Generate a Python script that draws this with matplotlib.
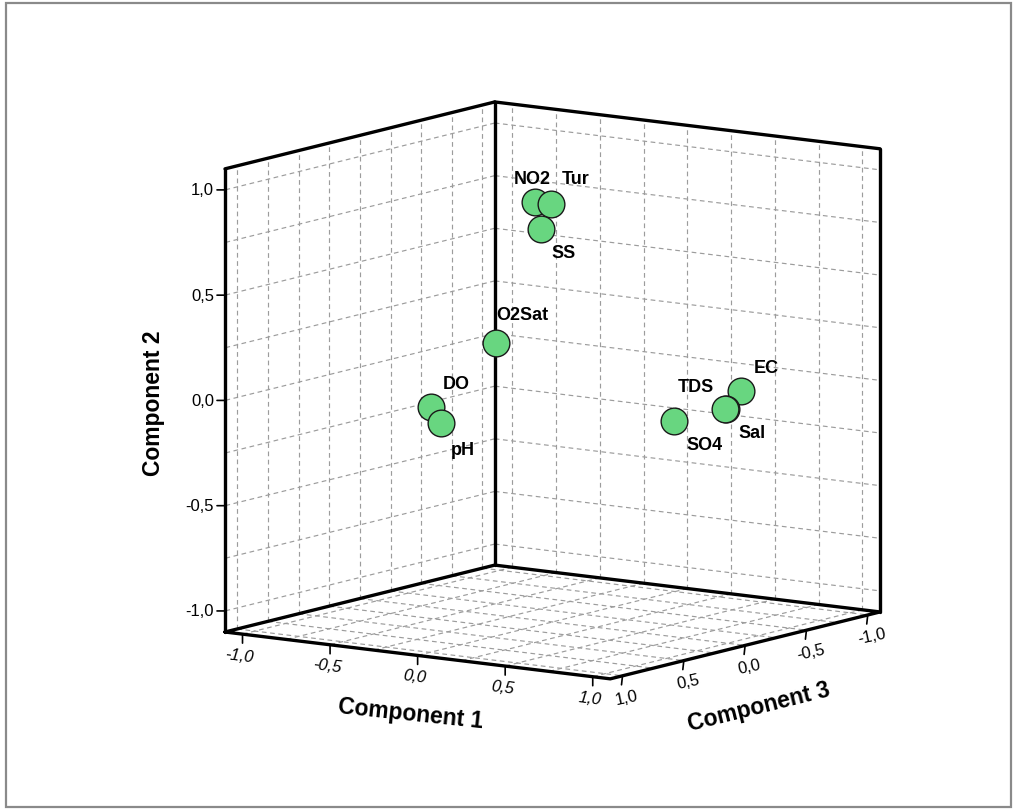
import numpy as np
import matplotlib
import matplotlib.pyplot as plt
from matplotlib.patches import Rectangle
from mpl_toolkits.mplot3d import proj3d

matplotlib.use('Agg')
plt.rcParams['font.family'] = ['Liberation Sans', 'DejaVu Sans']

# component loadings
labels = ['NO2', 'Tur', 'SS', 'O2Sat', 'DO', 'pH', 'TDS', 'EC', 'Sal', 'SO4']
comp1 = [-0.10, 0.08, 0.10, 0.10, -0.15, -0.02, 0.86, 0.90, 0.88, 0.78]
comp2 = [0.885, 0.91, 0.81, 0.32, 0.02, -0.03, -0.03, 0.05, -0.02, -0.05]
comp3 = [0.00, 0.13, 0.24, 0.60, 0.78, 0.88, -0.19, -0.25, -0.15, 0.12]

tick_values = [-1.0, -0.5, 0.0, 0.5, 1.0]
tick_labels = ['-1,0', '-0,5', '0,0', '0,5', '1,0']

# label offsets in pixels (dx, dy up)
label_offsets = [(-3, 23), (25, 26), (23, -23), (26, 29), (26, 23),
                 (22, -26), (-31, 23), (26, 24), (27, -24), (30, -23)]

W, H = 1017, 812
LIM = 1.1
fig = plt.figure(figsize=(W / 100, H / 100), dpi=100)
ax = fig.add_axes([0, 0, 1, 1], projection='3d', proj_type='ortho', computed_zorder=False)
ax.set_axis_off()
ax.set_xlim(-LIM, LIM)
ax.set_ylim(LIM, -LIM)   # component 3 runs from front to back
ax.set_zlim(-LIM, LIM)
ax.view_init(elev=10, azim=-55)
ax.set_box_aspect((1, 1, 1), zoom=1)


def pix(c1, c3, c2):
    x, y, _ = proj3d.proj_transform(c1, c3, c2, ax.get_proj())
    return ax.transData.transform((x, y))


def xy2d(c1, c3, c2):
    x, y, _ = proj3d.proj_transform(c1, c3, c2, ax.get_proj())
    return x, y


# calibrate size and position of the cube to the reference layout
fig.canvas.draw()
left = pix(-LIM, LIM, -LIM)
right = pix(LIM, -LIM, -LIM)
ax.set_box_aspect((1, 1, 1), zoom=(880 - 225) / (right[0] - left[0]))
fig.canvas.draw()
left = pix(-LIM, LIM, -LIM)
ax.set_position([(225 - left[0]) / W, (H - 633 - left[1]) / H, 1, 1])
fig.canvas.draw()

# grid lines on the walls and floor
grid = np.arange(-1.0, 1.01, 0.25)
gkw = dict(color='#9c9c9c', lw=0.85, ls=(0, (4, 3)), zorder=1, clip_on=False)
for g in grid:
    # left wall (component 1 = -LIM)
    ax.plot([-LIM, -LIM], [g, g], [-LIM, LIM], **gkw)
    ax.plot([-LIM, -LIM], [-LIM, LIM], [g, g], **gkw)
    # back wall (component 3 = -LIM)
    ax.plot([g, g], [-LIM, -LIM], [-LIM, LIM], **gkw)
    ax.plot([-LIM, LIM], [-LIM, -LIM], [g, g], **gkw)
    # floor
    ax.plot([g, g], [-LIM, LIM], [-LIM, -LIM], **gkw)
    ax.plot([-LIM, LIM], [g, g], [-LIM, -LIM], **gkw)

# box edges
ekw = dict(color='black', lw=2.4, zorder=2, clip_on=False, solid_capstyle='round')
ax.plot([-LIM, -LIM], [LIM, LIM], [-LIM, LIM], **ekw)
ax.plot([-LIM, -LIM], [-LIM, -LIM], [-LIM, LIM], **ekw)
ax.plot([LIM, LIM], [-LIM, -LIM], [-LIM, LIM], **ekw)
ax.plot([-LIM, -LIM], [LIM, -LIM], [LIM, LIM], **ekw)
ax.plot([-LIM, LIM], [-LIM, -LIM], [LIM, LIM], **ekw)
ax.plot([-LIM, -LIM, LIM, LIM, -LIM], [LIM, -LIM, -LIM, LIM, LIM],
        [-LIM] * 5, **ekw)

# ticks and tick labels
tkw = dict(arrowstyle='-', lw=1.2, color='black', shrinkA=0, shrinkB=0)
for v, t in zip(tick_values, tick_labels):
    # component 2 on the left edge
    p = xy2d(-LIM, LIM, v)
    ax.annotate('', xy=p, xytext=(-8, 0), textcoords='offset pixels',
                arrowprops=tkw, annotation_clip=False)
    ax.annotate(t, xy=p, xytext=(-11, 0), textcoords='offset pixels',
                ha='right', va='center', fontsize=12, annotation_clip=False)
    # component 1 on the front-left floor edge
    p = xy2d(v, LIM, -LIM)
    ax.annotate('', xy=p, xytext=(0, -9), textcoords='offset pixels',
                arrowprops=tkw, annotation_clip=False)
    ax.annotate(t, xy=p, xytext=(-3, -21), textcoords='offset pixels',
                ha='center', va='center', fontsize=12, style='italic',
                rotation=-7, annotation_clip=False)
    # component 3 on the front-right floor edge
    p = xy2d(LIM, v, -LIM)
    ax.annotate('', xy=p, xytext=(-1, -9), textcoords='offset pixels',
                arrowprops=tkw, annotation_clip=False)
    ax.annotate(t, xy=p, xytext=(4, -21), textcoords='offset pixels',
                ha='center', va='center', fontsize=12,
                rotation=12, annotation_clip=False)

# axis titles
ax.annotate('Component 1', xy=xy2d(0, LIM, -LIM), xytext=(-7, -58),
            textcoords='offset pixels', ha='center', va='center',
            fontsize=16.5, fontweight='bold', rotation=-6, annotation_clip=False)
ax.annotate('Component 3', xy=xy2d(LIM, 0, -LIM), xytext=(14, -61),
            textcoords='offset pixels', ha='center', va='center',
            fontsize=16.5, fontweight='bold', rotation=14, annotation_clip=False)
ax.annotate('Component 2', xy=xy2d(-LIM, LIM, 0), xytext=(-72, -2),
            textcoords='offset pixels', ha='center', va='center',
            fontsize=16.5, fontweight='bold', rotation=90, annotation_clip=False)

# points
ax.scatter(comp1, comp3, comp2, s=370, c='#68d680', edgecolors='#1a1a1a',
           linewidths=1.0, depthshade=False, zorder=3, clip_on=False)

for name, a, b, c, off in zip(labels, comp1, comp3, comp2, label_offsets):
    ax.annotate(name, xy=xy2d(a, b, c), xytext=off, textcoords='offset pixels',
                ha='center', va='center', fontsize=13, fontweight='bold',
                zorder=4, annotation_clip=False)

# outer frame
fig.patches.append(Rectangle((6 / W, 4 / H), 1005 / W, 804 / H, transform=fig.transFigure,
                             fill=False, edgecolor='#8a8a8a', lw=1.6))

fig.savefig('out.png', dpi=100)
